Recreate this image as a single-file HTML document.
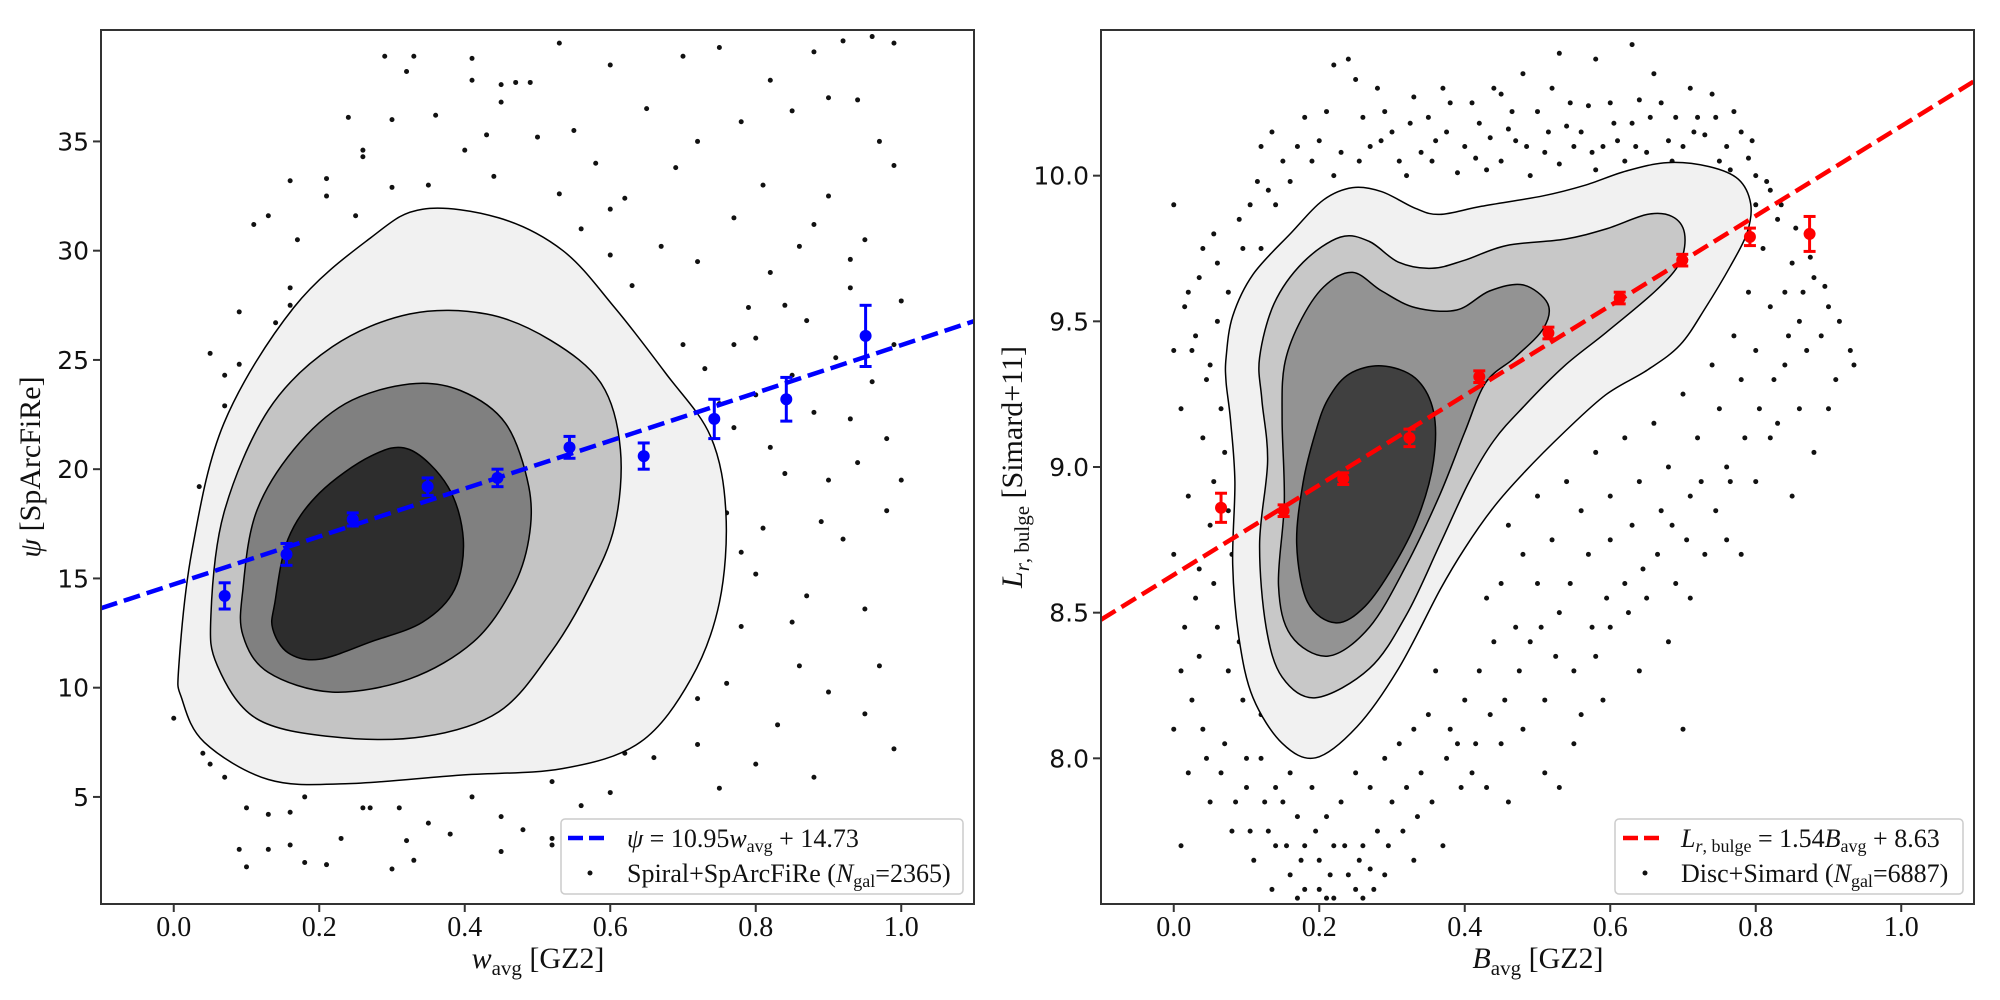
<!DOCTYPE html>
<html><head><meta charset="utf-8">
<style>
html,body{margin:0;padding:0;background:#fff;}
svg{display:block;}
.tk{font-family:"Liberation Serif",serif;font-size:28px;fill:#111;}
.ytk{font-family:"DejaVu Sans",sans-serif;font-size:25px;fill:#111;}
.lab{font-family:"Liberation Serif",serif;font-size:30px;fill:#111;}
.leg{font-family:"Liberation Serif",serif;font-size:26px;fill:#111;}
</style></head>
<body>
<svg id="fig" width="2000" height="1000" viewBox="0 0 2000 1000" xmlns="http://www.w3.org/2000/svg" style="position:absolute;left:0;top:0">
<defs>
<clipPath id="clipL"><rect x="101" y="30" width="873" height="874"/></clipPath>
<clipPath id="clipR"><rect x="1101" y="30" width="873" height="874"/></clipPath>
</defs>
<g id="left"></g>
<g id="right"></g>
</svg>
<script>
// ---------- LEFT PANEL DATA ----------
const leftXTicks=[0.0,0.2,0.4,0.6,0.8,1.0];
const leftYTicks=[5,10,15,20,25,30,35];
const leftBinX=[0.07,0.155,0.246,0.349,0.445,0.544,0.646,0.743,0.842,0.951];
const leftBinY=[14.2,16.1,17.7,19.2,19.6,21.0,20.6,22.3,23.2,26.1];
const leftBinErr=[0.6,0.5,0.3,0.4,0.4,0.5,0.6,0.9,1.0,1.4];
const leftFit=[10.95,14.73];
const leftC1=[[0.007,10.98],[0.025,16.25],[0.069,22.1],[0.165,27.4],[0.271,30.6],[0.342,31.9],[0.447,31.5],[0.535,30.0],[0.606,27.4],[0.676,24.4],[0.738,21.5],[0.759,18.0],[0.75,13.9],[0.711,10.4],[0.641,7.5],[0.535,6.3],[0.394,6.0],[0.236,5.6],[0.13,5.8],[0.042,7.5],[0.011,9.5]];
const leftC2=[[0.051,13.3],[0.069,18.0],[0.13,22.7],[0.218,25.6],[0.324,27.1],[0.43,27.1],[0.518,25.9],[0.588,23.9],[0.614,20.9],[0.606,17.4],[0.57,14.5],[0.518,11.6],[0.447,8.9],[0.342,7.75],[0.218,7.75],[0.113,8.6],[0.06,11.0]];
const leftC3=[[0.095,14.5],[0.113,18.0],[0.165,20.9],[0.236,23.0],[0.324,23.9],[0.394,23.6],[0.456,22.1],[0.488,19.2],[0.488,16.8],[0.465,14.5],[0.412,12.1],[0.324,10.4],[0.218,9.8],[0.13,10.7],[0.095,12.4]];
const leftC4=[[0.139,13.9],[0.157,16.8],[0.2,18.9],[0.271,20.6],[0.324,20.9],[0.377,19.2],[0.398,16.8],[0.386,14.5],[0.342,13.0],[0.271,12.1],[0.2,11.3],[0.157,11.6],[0.136,12.7]];
const leftScatter=[[0.29,38.9],[0.33,38.9],[0.32,38.2],[0.41,38.8],[0.41,37.8],[0.45,37.6],[0.47,37.7],[0.49,37.7],[0.53,39.5],[0.6,38.5],[0.7,38.9],[0.75,39.3],[0.82,37.8],[0.88,39.1],[0.92,39.6],[0.96,39.8],[0.99,39.5],[0.9,37.0],[0.94,36.9],[0.36,36.2],[0.45,36.8],[0.3,36.0],[0.55,35.5],[0.65,36.5],[0.72,35.0],[0.78,35.9],[0.85,36.4],[0.97,35.0],[0.26,34.6],[0.26,34.3],[0.43,35.3],[0.5,35.2],[0.58,34.0],[0.69,33.8],[0.81,33.0],[0.9,32.5],[0.99,33.9],[0.21,33.3],[0.3,32.9],[0.35,33.0],[0.44,33.4],[0.62,32.4],[0.77,31.5],[0.88,31.2],[0.95,30.5],[0.21,32.5],[0.25,31.6],[0.33,31.7],[0.38,31.2],[0.47,31.1],[0.56,31.0],[0.67,30.2],[0.6,29.8],[0.72,29.5],[0.82,29.0],[0.93,28.3],[1.0,27.7],[0.11,31.2],[0.13,31.6],[0.17,30.5],[0.41,29.6],[0.37,30.2],[0.37,30.6],[0.05,25.3],[0.09,27.2],[0.14,26.7],[0.16,27.5],[0.16,28.3],[0.21,28.6],[0.09,24.8],[0.07,24.3],[0.07,22.9],[0.09,22.9],[0.035,19.2],[0.0,8.6],[0.06,7.3],[0.04,7.0],[0.05,6.5],[0.07,5.9],[0.1,4.5],[0.13,4.2],[0.16,4.3],[0.18,5.0],[0.16,2.8],[0.18,2.0],[0.13,2.6],[0.09,2.6],[0.1,1.8],[0.21,1.9],[0.23,3.1],[0.26,4.5],[0.27,4.5],[0.31,4.5],[0.32,3.0],[0.33,2.1],[0.35,3.8],[0.38,3.3],[0.41,5.0],[0.45,2.5],[0.45,4.1],[0.52,2.8],[0.56,4.6],[0.6,5.2],[0.3,1.7],[0.48,3.5],[0.52,3.1],[0.62,7.0],[0.65,8.4],[0.63,7.8],[0.7,11.2],[0.72,9.5],[0.74,14.3],[0.71,16.5],[0.76,18.0],[0.78,12.8],[0.8,15.2],[0.82,21.0],[0.73,24.6],[0.77,25.7],[0.8,26.0],[0.85,24.3],[0.88,22.6],[0.9,19.5],[0.92,16.8],[0.95,13.6],[0.97,11.0],[0.99,7.2],[1.0,19.5],[0.98,18.1],[0.86,11.0],[0.83,8.3],[0.8,6.5],[0.75,5.4],[0.9,9.8],[0.94,20.3],[0.87,14.2],[0.81,17.3],[0.77,21.9],[0.7,20.1],[0.72,13.1],[0.66,12.5],[0.68,11.6],[0.84,27.5],[0.91,25.1],[0.96,24.0],[0.93,29.6],[0.86,30.2],[0.79,27.4],[0.7,25.7],[0.63,28.4],[0.75,23.0],[0.99,25.7],[0.65,10.3],[0.68,9.0],[0.66,6.8],[0.62,12.9],[0.64,14.4],[0.52,5.7],[0.78,16.2],[0.74,19.1],[0.84,19.8],[0.89,17.6],[0.93,22.3],[0.98,21.4],[0.85,13.0],[0.76,10.2],[0.72,7.4],[0.88,5.9],[0.95,8.8],[0.69,15.3],[0.66,18.4],[0.8,23.4],[0.87,26.8],[0.6,31.9],[0.53,32.6],[0.4,34.6],[0.16,33.2],[0.24,36.1]];

// ---------- RIGHT PANEL DATA ----------
const rightXTicks=[0.0,0.2,0.4,0.6,0.8,1.0];
const rightYTicks=[8.0,8.5,9.0,9.5,10.0];
const rightYTickLabels=["8.0","8.5","9.0","9.5","10.0"];
const rightBinX=[0.065,0.151,0.233,0.324,0.42,0.515,0.613,0.699,0.792,0.874];
const rightBinY=[8.86,8.85,8.96,9.10,9.31,9.46,9.58,9.71,9.79,9.80];
const rightBinErr=[0.05,0.02,0.02,0.03,0.02,0.02,0.02,0.02,0.03,0.06];
const rightFit=[1.54,8.63];
const rightC1=[[0.072,9.376],[0.081,9.518],[0.109,9.661],[0.161,9.803],[0.206,9.917],[0.246,9.959],[0.286,9.945],[0.332,9.888],[0.366,9.867],[0.423,9.895],[0.508,9.931],[0.565,9.967],[0.622,10.016],[0.679,10.045],[0.736,10.031],[0.776,9.988],[0.793,9.903],[0.788,9.803],[0.765,9.689],[0.731,9.547],[0.696,9.419],[0.651,9.333],[0.594,9.248],[0.537,9.12],[0.48,8.977],[0.44,8.863],[0.4,8.721],[0.366,8.578],[0.309,8.308],[0.252,8.109],[0.195,8.002],[0.149,8.052],[0.109,8.208],[0.09,8.408],[0.081,8.664],[0.084,8.949],[0.078,9.162],[0.072,9.29]];
const rightC2=[[0.118,9.376],[0.138,9.561],[0.178,9.703],[0.229,9.789],[0.269,9.774],[0.309,9.703],[0.355,9.682],[0.4,9.71],[0.457,9.76],[0.537,9.782],[0.594,9.817],[0.651,9.867],[0.685,9.86],[0.702,9.803],[0.696,9.703],[0.662,9.604],[0.594,9.461],[0.537,9.347],[0.48,9.205],[0.44,9.091],[0.406,8.949],[0.366,8.735],[0.32,8.493],[0.269,8.308],[0.195,8.208],[0.149,8.279],[0.127,8.45],[0.118,8.735],[0.129,9.02],[0.121,9.233]];
const rightC3=[[0.152,9.347],[0.172,9.49],[0.206,9.618],[0.246,9.668],[0.286,9.604],[0.332,9.547],[0.389,9.539],[0.434,9.604],[0.48,9.625],[0.514,9.561],[0.508,9.475],[0.469,9.376],[0.429,9.29],[0.4,9.12],[0.366,8.906],[0.32,8.664],[0.269,8.45],[0.212,8.351],[0.161,8.422],[0.144,8.593],[0.152,8.877],[0.149,9.162]];
const rightC4=[[0.212,9.233],[0.241,9.319],[0.286,9.347],[0.332,9.305],[0.357,9.191],[0.357,9.02],[0.337,8.835],[0.303,8.664],[0.263,8.522],[0.223,8.465],[0.184,8.536],[0.169,8.735],[0.178,8.949],[0.195,9.12]];
const rightScatter=[[0.22,10.38],[0.24,10.4],[0.33,10.27],[0.3,10.15],[0.25,10.33],[0.35,10.2],[0.4,10.1],[0.45,10.05],[0.5,10.22],[0.52,10.3],[0.55,10.1],[0.6,10.25],[0.63,10.18],[0.66,10.35],[0.68,10.12],[0.72,10.2],[0.75,10.05],[0.78,10.15],[0.12,10.1],[0.15,10.05],[0.18,10.2],[0.2,10.12],[0.22,10.0],[0.27,10.1],[0.29,10.22],[0.31,10.05],[0.36,10.12],[0.38,10.25],[0.42,10.18],[0.43,10.02],[0.47,10.12],[0.49,10.0],[0.54,10.17],[0.57,10.24],[0.59,10.1],[0.62,10.05],[0.64,10.26],[0.69,10.2],[0.71,10.3],[0.74,10.28],[0.76,10.1],[0.8,10.0],[0.82,9.95],[0.13,9.95],[0.16,9.98],[0.19,10.05],[0.23,10.08],[0.26,10.2],[0.32,10.0],[0.34,10.08],[0.39,10.01],[0.41,10.25],[0.44,10.3],[0.46,10.16],[0.51,10.08],[0.53,10.04],[0.56,10.15],[0.58,10.02],[0.61,10.12],[0.65,10.08],[0.67,10.25],[0.7,10.1],[0.73,10.14],[0.77,10.22],[0.79,10.06],[0.28,10.3],[0.37,10.3],[0.48,10.35],[0.58,10.4],[0.63,10.45],[0.53,10.42],[0.45,10.28],[0.8,9.9],[0.83,9.85],[0.85,9.7],[0.84,9.6],[0.87,9.8],[0.86,9.5],[0.82,9.55],[0.88,9.65],[0.9,9.55],[0.81,9.75],[0.79,9.6],[0.77,9.45],[0.78,9.3],[0.8,9.4],[0.84,9.35],[0.89,9.45],[0.93,9.4],[0.75,9.2],[0.72,9.1],[0.74,9.35],[0.76,9.0],[0.7,9.25],[0.68,9.0],[0.66,9.15],[0.64,8.95],[0.62,9.1],[0.6,8.9],[0.58,9.05],[0.56,8.85],[0.54,8.95],[0.52,8.75],[0.5,8.9],[0.48,8.7],[0.46,8.8],[0.45,8.6],[0.43,8.55],[0.44,8.4],[0.47,8.45],[0.5,8.6],[0.53,8.5],[0.57,8.7],[0.6,8.75],[0.63,8.8],[0.67,8.85],[0.71,8.9],[0.73,8.7],[0.69,8.6],[0.65,8.55],[0.6,8.45],[0.55,8.3],[0.51,8.2],[0.48,8.1],[0.53,7.9],[0.58,8.35],[0.62,8.6],[0.56,8.15],[0.42,8.3],[0.4,8.2],[0.38,8.1],[0.41,7.95],[0.45,8.05],[0.49,8.4],[0.7,8.1],[0.78,8.7],[0.82,9.1],[0.86,9.2],[0.91,9.3],[0.85,8.9],[0.0,9.9],[0.02,9.6],[0.03,9.45],[0.05,9.35],[0.06,9.5],[0.08,9.3],[0.1,9.6],[0.01,9.2],[0.04,9.1],[0.07,9.05],[0.09,8.95],[0.11,9.15],[0.02,8.9],[0.05,8.8],[0.08,8.7],[0.1,8.6],[0.0,8.7],[0.03,8.55],[0.06,8.45],[0.09,8.4],[0.11,8.25],[0.01,8.3],[0.04,8.1],[0.07,8.05],[0.1,8.0],[0.12,8.15],[0.02,7.95],[0.05,7.85],[0.08,7.75],[0.11,7.65],[0.06,9.7],[0.09,9.85],[0.12,9.75],[0.14,9.9],[0.04,9.75],[0.0,9.4],[0.13,8.4],[0.12,8.0],[0.14,7.9],[0.1,7.9],[0.0,8.1],[0.01,7.7],[0.14,7.7],[0.16,7.6],[0.18,7.55],[0.2,7.65],[0.22,7.52],[0.24,7.6],[0.26,7.7],[0.28,7.75],[0.3,7.85],[0.15,7.85],[0.17,7.8],[0.19,7.9],[0.21,7.8],[0.23,7.85],[0.25,7.95],[0.27,7.9],[0.29,8.0],[0.31,8.05],[0.33,8.1],[0.35,8.15],[0.32,7.9],[0.13,7.75],[0.18,7.7],[0.22,7.7],[0.2,7.55],[0.25,7.55],[0.16,7.95],[0.27,7.62],[0.34,7.95],[0.36,8.3],
[0.115,9.98],[0.135,10.15],[0.17,10.1],[0.21,10.22],[0.255,10.05],[0.285,10.12],[0.325,10.18],[0.355,10.05],[0.375,10.15],[0.415,10.06],[0.435,10.13],[0.465,10.22],[0.485,10.1],[0.515,10.15],[0.545,10.25],[0.575,10.08],[0.605,10.18],[0.635,10.1],[0.655,10.2],[0.685,10.05],[0.715,10.15],[0.745,10.2],[0.765,10.02],[0.795,10.12],[0.815,9.98],[0.835,9.9],[0.855,9.82],[0.875,9.72],[0.895,9.62],[0.865,9.6],[0.845,9.45],[0.825,9.3],[0.805,9.2],[0.785,9.1],[0.765,8.95],[0.745,8.85],[0.725,8.95],[0.705,8.75],[0.685,8.8],[0.665,8.7],[0.645,8.65],[0.625,8.5],[0.595,8.55],[0.575,8.45],[0.545,8.6],[0.525,8.35],[0.505,8.45],[0.475,8.3],[0.455,8.2],[0.435,8.15],[0.415,8.05],[0.395,7.9],[0.375,8.0],[0.355,7.85],[0.335,7.8],[0.315,7.75],[0.295,7.7],[0.275,7.55],[0.255,7.65],[0.235,7.7],[0.215,7.6],[0.195,7.75],[0.175,7.65],[0.155,7.7],[0.135,7.55],[0.125,7.85],[0.105,7.75],[0.085,7.85],[0.065,7.95],[0.045,8.0],[0.025,8.2],[0.015,8.45],[0.035,8.65],[0.055,8.95],[0.075,8.85],[0.065,9.2],[0.045,9.3],[0.025,9.4],[0.015,9.55],[0.035,9.65],[0.055,9.8],[0.075,9.6],[0.095,9.75],[0.105,9.9],[0.085,9.45],[0.105,8.8],[0.115,8.5],[0.095,8.2],[0.075,8.3],[0.055,8.6],[0.035,8.35],[0.915,9.5],[0.935,9.35],[0.87,9.4],[0.83,9.15],[0.8,8.95],[0.9,9.2],[0.88,9.05],[0.76,8.75],[0.71,8.55],[0.68,8.4],[0.64,8.3],[0.59,8.2],[0.55,8.05],[0.51,7.95],[0.46,7.85],[0.43,7.9],[0.39,8.05],[0.37,7.7],[0.33,7.65],[0.29,7.6],[0.26,7.52],[0.21,7.52],[0.17,7.52]];

const NS="http://www.w3.org/2000/svg";
function mk(tag,attrs,parent){const e=document.createElementNS(NS,tag);for(const k in attrs)e.setAttribute(k,attrs[k]);parent.appendChild(e);return e;}
function smoothPath(pts){
  const n=pts.length;let d="M"+pts[0][0].toFixed(1)+","+pts[0][1].toFixed(1);
  for(let i=0;i<n;i++){
    const p0=pts[(i-1+n)%n],p1=pts[i],p2=pts[(i+1)%n],p3=pts[(i+2)%n];
    const c1x=p1[0]+(p2[0]-p0[0])/6,c1y=p1[1]+(p2[1]-p0[1])/6;
    const c2x=p2[0]-(p3[0]-p1[0])/6,c2y=p2[1]-(p3[1]-p1[1])/6;
    d+=" C"+c1x.toFixed(1)+","+c1y.toFixed(1)+" "+c2x.toFixed(1)+","+c2y.toFixed(1)+" "+p2[0].toFixed(1)+","+p2[1].toFixed(1);
  }
  return d+"Z";
}

function panel(g,o){
  const L=o.x0,R=o.x0+873,T=30,B=904;
  const sx=v=>L+(v-(-0.1))/1.2*873;
  const sy=v=>B-(v-o.ymin)/(o.ymax-o.ymin)*874;
  const plot=mk('g',{'clip-path':o.clip},g);
  const sg=mk('g',{},plot);
  
  
  o.scatter.forEach(p=>{
    const c=mk('circle',{cx:sx(p[0]),cy:sy(p[1]),r:2.5,fill:'#111'},sg);
    
    
  });
  o.contours.forEach((c,i)=>{
    const p=mk('path',{d:smoothPath(c.map(q=>[sx(q[0]),sy(q[1])])),fill:o.cols[i],stroke:'#000','stroke-width':1.5},plot);
    
    
  });
  const fl=mk('line',{x1:sx(-0.1),y1:sy(o.fit[0]*-0.1+o.fit[1]),x2:sx(1.1),y2:sy(o.fit[0]*1.1+o.fit[1]),stroke:o.color,'stroke-width':4.5,'stroke-dasharray':'17,7'},plot);
  
  
  o.bx.forEach((x,i)=>{
    const eg=mk('g',{},plot);
    
    
    const X=sx(x),y1=sy(o.by[i]-o.be[i]),y2=sy(o.by[i]+o.be[i]);
    mk('line',{x1:X,x2:X,y1:y1,y2:y2,stroke:o.color,'stroke-width':3},eg);
    mk('line',{x1:X-6,x2:X+6,y1:y1,y2:y1,stroke:o.color,'stroke-width':3},eg);
    mk('line',{x1:X-6,x2:X+6,y1:y2,y2:y2,stroke:o.color,'stroke-width':3},eg);
    mk('circle',{cx:X,cy:sy(o.by[i]),r:6,fill:o.color},eg);
  });
  const fr=mk('rect',{x:L,y:T,width:873,height:874,fill:'none',stroke:'#333','stroke-width':2},g);
  
  
  o.xt.forEach(v=>{
    const X=sx(v);
    mk('line',{x1:X,x2:X,y1:B,y2:B+8,stroke:'#333','stroke-width':2},g);
    const t=mk('text',{x:X,y:B+32,'text-anchor':'middle',class:'tk'},g);t.textContent=v.toFixed(1);
    
    
  });
  o.yt.forEach((v,i)=>{
    const Y=sy(v);
    mk('line',{x1:L-8,x2:L,y1:Y,y2:Y,stroke:'#333','stroke-width':2},g);
    const t=mk('text',{x:L-12,y:Y+9,'text-anchor':'end',class:'ytk'},g);t.textContent=o.ytl[i];
    
    
  });
}

panel(document.getElementById('left'),{x0:101,ymin:0.1,ymax:40.1,clip:'url(#clipL)',scatter:leftScatter,contours:[leftC1,leftC2,leftC3,leftC4],cols:['#f1f1f1','#c4c4c4','#808080','#2d2d2d'],fit:leftFit,color:'#0000ff',bx:leftBinX,by:leftBinY,be:leftBinErr,xt:leftXTicks,yt:leftYTicks,ytl:leftYTicks.map(String)});
panel(document.getElementById('right'),{x0:1101,ymin:7.5,ymax:10.5,clip:'url(#clipR)',scatter:rightScatter,contours:[rightC1,rightC2,rightC3,rightC4],cols:['#f1f1f1','#c8c8c8','#939393','#404040'],fit:rightFit,color:'#ff0000',bx:rightBinX,by:rightBinY,be:rightBinErr,xt:rightXTicks,yt:rightYTicks,ytl:rightYTickLabels});
</script>
<svg width="2000" height="1000" style="position:absolute;left:0;top:0">
  <text class="lab" x="538" y="968" text-anchor="middle"><tspan font-style="italic">w</tspan><tspan font-size="21" dy="7">avg</tspan><tspan dy="-7"> [GZ2]</tspan></text>
  <text class="lab" transform="translate(40,467) rotate(-90)" text-anchor="middle"><tspan font-style="italic">ψ</tspan> [SpArcFiRe]</text>
  <text class="lab" x="1538" y="968" text-anchor="middle"><tspan font-style="italic">B</tspan><tspan font-size="21" dy="7">avg</tspan><tspan dy="-7"> [GZ2]</tspan></text>
  <text class="lab" transform="translate(1022,467) rotate(-90)" text-anchor="middle"><tspan font-style="italic">L</tspan><tspan font-size="21" dy="7"><tspan font-style="italic">r</tspan>, bulge</tspan><tspan dy="-7"> [Simard+11]</tspan></text>
  <g>
    <rect x="561" y="819" width="402" height="75" rx="4" fill="#fff" fill-opacity="0.85" stroke="#ccc" stroke-width="1.5"/>
    <line x1="568" y1="838" x2="607" y2="838" stroke="#0000ff" stroke-width="4.5" stroke-dasharray="15,6"/>
    <text class="leg" x="627" y="847"><tspan font-style="italic">ψ</tspan> = 10.95<tspan font-style="italic">w</tspan><tspan font-size="18" dy="5">avg</tspan><tspan dy="-5"> + 14.73</tspan></text>
    <circle cx="590" cy="873" r="2.5" fill="#111"/>
    <text class="leg" x="627" y="882">Spiral+SpArcFiRe (<tspan font-style="italic">N</tspan><tspan font-size="18" dy="5">gal</tspan><tspan dy="-5">=2365)</tspan></text>
  </g>
  <g>
    <rect x="1615" y="819" width="348" height="75" rx="4" fill="#fff" fill-opacity="0.85" stroke="#ccc" stroke-width="1.5"/>
    <line x1="1623" y1="838" x2="1662" y2="838" stroke="#ff0000" stroke-width="4.5" stroke-dasharray="15,6"/>
    <text class="leg" x="1681" y="847"><tspan font-style="italic">L</tspan><tspan font-size="18" dy="5"><tspan font-style="italic">r</tspan>, bulge</tspan><tspan dy="-5"> = 1.54</tspan><tspan font-style="italic">B</tspan><tspan font-size="18" dy="5">avg</tspan><tspan dy="-5"> + 8.63</tspan></text>
    <circle cx="1645" cy="873" r="2.5" fill="#111"/>
    <text class="leg" x="1681" y="882">Disc+Simard (<tspan font-style="italic">N</tspan><tspan font-size="18" dy="5">gal</tspan><tspan dy="-5">=6887)</tspan></text>
  </g>
</svg>
</body></html>
